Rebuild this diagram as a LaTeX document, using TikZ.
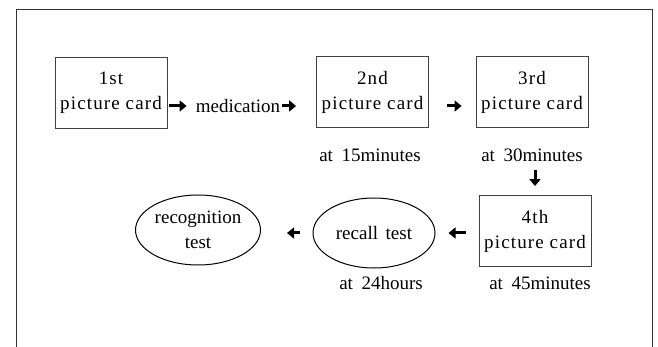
\documentclass[tikz,border=0pt]{standalone}
\usepackage{fontspec}
\setmainfont{Liberation Serif}
\newfontfamily\cardfont{Liberation Serif}[LetterSpace=6]
\usetikzlibrary{arrows.meta,shapes.geometric}

\tikzset{
  frameline/.style={line width=1pt, black!80},
  card/.style={draw=black!75, line width=0.8pt, rectangle, minimum width=112pt,
    minimum height=71pt, align=center, inner sep=0pt,
    font=\fontsize{19}{25}\selectfont\cardfont},
  test/.style={draw=black, line width=1pt, ellipse, inner sep=0pt, align=center,
    font=\fontsize{19}{25}\selectfont},
  timelabel/.style={inner sep=0pt, font=\fontsize{19}{22}\selectfont},
  arr/.style={line width=3pt, -{Triangle[length=7pt,width=11pt]}},
}

\begin{document}
\begin{tikzpicture}[x=1pt,y=-1pt]
  \useasboundingbox (0,0) rectangle (658,347);

  % open frame running off the lower edge
  \draw[frameline] (16,347) -- (16,10) -- (652,10) -- (652,347);

  % picture cards
  \node[card] (c1) at (111,92.5) {1st\\picture card};
  \node[card] (c2) at (372.5,92) {2nd\\picture card};
  \node[card] (c3) at (532,92) {3rd\\picture card};
  \node[card] (c4) at (535,231) {4th\\picture card};

  % tests
  \node[test, minimum width=122pt, minimum height=70pt] (recall) at (374,233) {recall\hspace{0.4em}test};
  \node[test, minimum width=125pt, minimum height=70pt] (recog) at (198,230) {recognition\\test};

  % medication step and timing labels
  \node[timelabel] (med) at (238,106) {medication};
  \node[timelabel] (t15) at (370,155) {at\hspace{0.45em}15minutes};
  \node[timelabel] (t30) at (532,155) {at\hspace{0.45em}30minutes};
  \node[timelabel] (t45) at (540,283) {at\hspace{0.45em}45minutes};
  \node[timelabel] (t24) at (381,283) {at\hspace{0.45em}24hours};

  % flow arrows
  \draw[arr, shorten <=2pt, shorten >=9pt] (c1.east |- med) -- (med.west);
  \draw[arr, shorten <=2pt, shorten >=20pt] (med.east) -- (med.east -| c2.west);
  \draw[arr, shorten <=18pt, shorten >=14pt] (c2.east |- med) -- (c3.west |- med);
  \draw[arr, shorten <=8pt, shorten >=9pt] (t30.south -| c4) -- (c4.north);
  \draw[arr, shorten <=13pt, shorten >=13pt] (c4.west |- recall) -- (recall.east);
  \draw[arr, shorten <=13pt, shorten >=26pt] (recall.west) -- (recall.west -| recog.east);
\end{tikzpicture}
\end{document}
